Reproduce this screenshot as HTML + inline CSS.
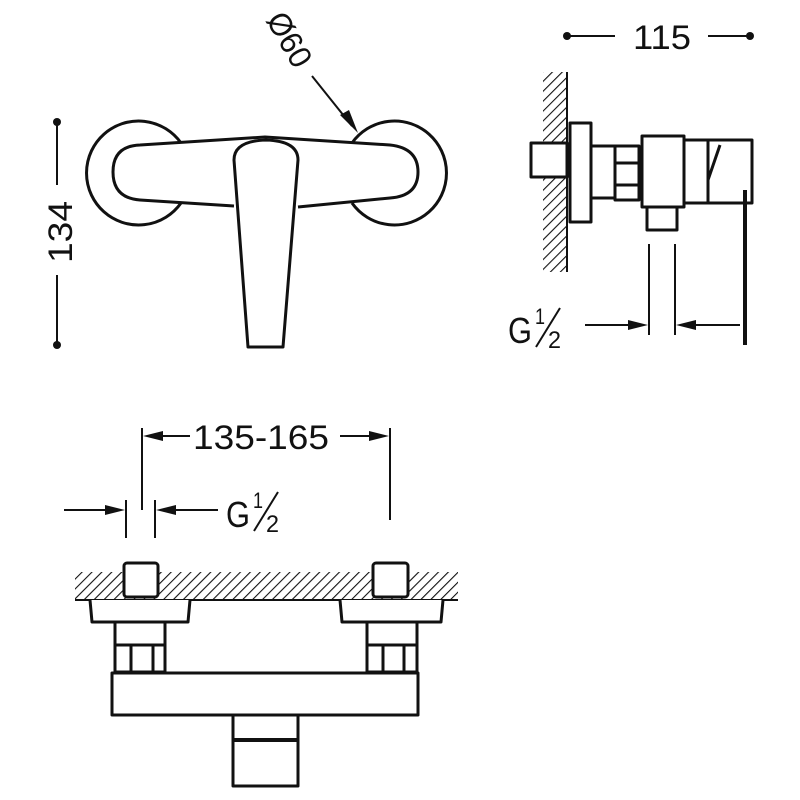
<!DOCTYPE html>
<html><head><style>html,body{margin:0;padding:0;background:#fff}svg{display:block}</style></head>
<body>
<svg width="800" height="800" viewBox="0 0 800 800" xmlns="http://www.w3.org/2000/svg">
<defs>
<pattern id="h" patternUnits="userSpaceOnUse" width="7" height="7" patternTransform="rotate(45)">
<line x1="0" y1="0" x2="0" y2="7" stroke="#111" stroke-width="2.2"/>
</pattern>
</defs>
<g fill="none" stroke="#111" stroke-width="3" stroke-linejoin="round">
<circle cx="57" cy="122" r="4" fill="#111" stroke="none"/>
<circle cx="57" cy="345" r="4" fill="#111" stroke="none"/>
<line x1="57" y1="122" x2="57" y2="185" stroke-width="2"/>
<line x1="57" y1="275" x2="57" y2="345" stroke-width="2"/>
<path d="M181,143 A52,52 0 1 0 181,203"/>
<path d="M352,143 A52,52 0 1 1 352,203"/>
<path d="M140,145 L265,137 L390,145 Q418,148 418,172 Q418,196 390,198 L298,207 M234,206 L140,200 Q113,198 113,172 Q113,146 140,145"/>
<path d="M248,347 L283,347 L298,160 Q298,141 266,140 Q234,141 234,160 Z" fill="#fff"/>
<line x1="312" y1="76" x2="352" y2="126" stroke-width="2"/>
<polygon points="358,133 340,115 349,110" fill="#111" stroke="none"/>
<circle cx="567" cy="36" r="4" fill="#111" stroke="none"/>
<circle cx="750" cy="36" r="4" fill="#111" stroke="none"/>
<line x1="567" y1="36" x2="615" y2="36" stroke-width="2"/>
<line x1="708" y1="36" x2="750" y2="36" stroke-width="2"/>
<rect x="543" y="72" width="24" height="200" fill="url(#h)" stroke="none"/>
<line x1="567" y1="72" x2="567" y2="272" stroke-width="2"/>
<rect x="531" y="143" width="36" height="34" fill="#fff"/>
<rect x="570" y="123" width="21" height="99" fill="#fff"/>
<rect x="591" y="146" width="24" height="52"/>
<rect x="615" y="146" width="24" height="54"/>
<line x1="615" y1="163" x2="639" y2="163"/><line x1="615" y1="185" x2="639" y2="185"/>
<rect x="642" y="136" width="42" height="71"/>
<path d="M684,140 L752,140 L752,203 L684,203 Z"/>
<line x1="708" y1="140" x2="708" y2="203"/>
<line x1="708" y1="180" x2="720" y2="145"/>
<line x1="745" y1="190" x2="745" y2="345" stroke-width="4"/>
<rect x="647" y="207" width="30" height="23"/>
<line x1="649" y1="244" x2="649" y2="335" stroke-width="2"/>
<line x1="675" y1="244" x2="675" y2="335" stroke-width="2"/>
<line x1="585" y1="325" x2="630" y2="325" stroke-width="2"/>
<polygon points="648,325 628,320 628,330" fill="#111" stroke="none"/>
<line x1="695" y1="325" x2="740" y2="325" stroke-width="2"/>
<polygon points="676,325 696,320 696,330" fill="#111" stroke="none"/>
<line x1="142" y1="428" x2="142" y2="510" stroke-width="2"/>
<line x1="390" y1="428" x2="390" y2="520" stroke-width="2"/>
<line x1="160" y1="436" x2="190" y2="436" stroke-width="2"/>
<polygon points="143,436 163,431 163,441" fill="#111" stroke="none"/>
<line x1="340" y1="436" x2="372" y2="436" stroke-width="2"/>
<polygon points="389,436 369,431 369,441" fill="#111" stroke="none"/>
<line x1="126" y1="500" x2="126" y2="538" stroke-width="2"/>
<line x1="155" y1="500" x2="155" y2="538" stroke-width="2"/>
<line x1="64" y1="510" x2="110" y2="510" stroke-width="2"/>
<polygon points="125,510 105,505 105,515" fill="#111" stroke="none"/>
<line x1="172" y1="510" x2="218" y2="510" stroke-width="2"/>
<polygon points="156,510 176,505 176,515" fill="#111" stroke="none"/>
<rect x="75" y="572" width="383" height="28" fill="url(#h)" stroke="none"/>
<line x1="75" y1="600" x2="458" y2="600" stroke-width="2"/>
<rect x="124" y="563" width="34" height="34" rx="3" fill="#fff"/>
<rect x="373" y="563" width="35" height="34" rx="3" fill="#fff"/>
<path d="M90,600 L92,622 L188,622 L190,600" fill="#fff"/>
<path d="M340,600 L342,622 L441,622 L443,600" fill="#fff"/>
<rect x="115" y="622" width="50" height="50"/>
<line x1="115" y1="645" x2="165" y2="645"/><line x1="131" y1="645" x2="131" y2="672"/><line x1="153" y1="645" x2="153" y2="672"/>
<rect x="367" y="622" width="50" height="50"/>
<line x1="367" y1="645" x2="417" y2="645"/><line x1="383" y1="645" x2="383" y2="672"/><line x1="404" y1="645" x2="404" y2="672"/>
<rect x="112" y="673" width="306" height="42"/>
<rect x="233" y="715" width="65" height="71"/>
<line x1="233" y1="740" x2="298" y2="740" stroke-width="4"/>
</g>
<g font-family="'Liberation Sans Narrow','Liberation Sans',sans-serif" fill="#111">
<text x="0" y="0" font-size="34" transform="translate(72,232) rotate(-90)" text-anchor="middle" textLength="62" lengthAdjust="spacingAndGlyphs">134</text>
<text x="0" y="0" font-size="32" transform="translate(280,45) rotate(60)" text-anchor="middle" textLength="58" lengthAdjust="spacingAndGlyphs">Ø60</text>
<text x="662" y="49" font-size="34" text-anchor="middle" textLength="58" lengthAdjust="spacingAndGlyphs">115</text>
<text x="508" y="343" font-size="36" textLength="24" lengthAdjust="spacingAndGlyphs">G</text>
<text x="535" y="324" font-size="22" textLength="10" lengthAdjust="spacingAndGlyphs">1</text>
<text x="548" y="348" font-size="24" textLength="13" lengthAdjust="spacingAndGlyphs">2</text>
<line x1="536" y1="347" x2="560" y2="308" stroke="#111" stroke-width="2"/>
<text x="261" y="449" font-size="34" text-anchor="middle" textLength="136" lengthAdjust="spacingAndGlyphs">135-165</text>
<text x="226" y="527" font-size="36" textLength="24" lengthAdjust="spacingAndGlyphs">G</text>
<text x="253" y="508" font-size="22" textLength="10" lengthAdjust="spacingAndGlyphs">1</text>
<text x="266" y="532" font-size="24" textLength="13" lengthAdjust="spacingAndGlyphs">2</text>
<line x1="254" y1="531" x2="278" y2="492" stroke="#111" stroke-width="2"/>
</g>
</svg>
</body></html>
